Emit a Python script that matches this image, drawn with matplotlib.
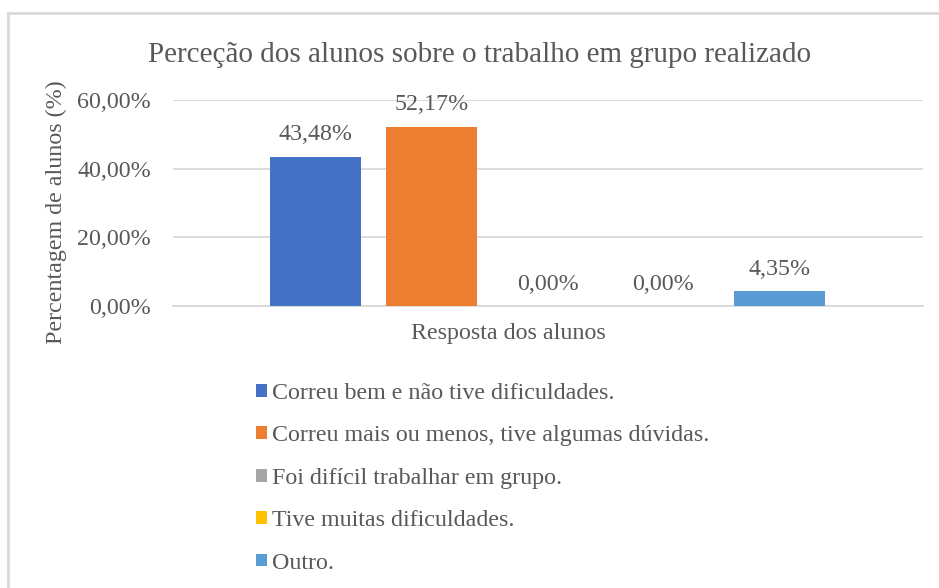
import matplotlib
matplotlib.use("Agg")
import matplotlib.pyplot as plt
from matplotlib.lines import Line2D
from matplotlib.patches import Patch

plt.rcParams['font.family'] = ['Liberation Serif', 'DejaVu Serif']

title = "Perceção dos alunos sobre o trabalho em grupo realizado"
category = "Resposta dos alunos"
ylabel = "Percentagem de alunos (%)"
series = ["Correu bem e não tive dificuldades.",
          "Correu mais ou menos, tive algumas dúvidas.",
          "Foi difícil trabalhar em grupo.",
          "Tive muitas dificuldades.",
          "Outro."]
values = [43.48, 52.17, 0.00, 0.00, 4.35]
colors = ["#4472C4", "#ED7D31", "#A5A5A5", "#FFC000", "#5B9BD5"]
yticks = [0, 20, 40, 60]

TXT = "#595959"
FS = 17.3
W, H = 939, 588
fig = plt.figure(figsize=(W / 100, H / 100), dpi=100)

# chart frame (cropped at right and bottom)
fig.add_artist(Line2D([7.5 / W, 1], [1 - 12.5 / H] * 2, color="#D9D9D9", lw=2))
fig.add_artist(Line2D([7.5 / W] * 2, [0, 1 - 12.5 / H], color="#D9D9D9", lw=2))

ax = fig.add_axes([172.5 / W, 1 - 306 / H, 750 / W, 206 / H])
step = 0.1545
width = 0.1213
n = len(series)
for i, (s, v, c) in enumerate(zip(series, values, colors)):
    x = (i - (n - 1) / 2) * step
    ax.bar(x, v, width=width, color=c, label=s, zorder=3)
    ax.annotate(f"{v:.2f}%".replace(".", ","), xy=(x, v), xytext=(0, 15.8),
                textcoords="offset points", ha="center", va="center",
                fontsize=FS, color=TXT)

ax.set_xlim(-0.5, 0.5)
ax.set_ylim(0, 60)
ax.set_yticks(yticks)
ax.set_yticklabels([f"{t:.2f}%".replace(".", ",") for t in yticks], fontsize=FS, color=TXT)
ax.tick_params(axis="y", length=0, pad=15.5)
ax.set_xticks([])
ax.grid(axis="y", color="#D9D9D9", lw=1.3, zorder=0)
for sp in ["top", "right", "left"]:
    ax.spines[sp].set_visible(False)
ax.spines["bottom"].set_color("#D9D9D9")
ax.spines["bottom"].set_linewidth(1.3)

fig.text(508 / W, 1 - 334 / H, category, ha="center", va="center", fontsize=FS, color=TXT)
fig.text(480 / W, 1 - 55 / H, title, ha="center", va="center", fontsize=21, color=TXT)
fig.text(56 / W, 1 - 212 / H, ylabel, ha="center", va="center", rotation=90,
         fontsize=FS, color=TXT)

handles = [Patch(facecolor=c, edgecolor="none") for c in colors]
leg = fig.legend(handles, series, loc="upper left",
                 bbox_to_anchor=(256 / W, 1 - 383 / H), frameon=False,
                 fontsize=FS, labelcolor=TXT, handlelength=0.45, handleheight=0.45,
                 handletextpad=0.2, labelspacing=0.89, borderpad=0, borderaxespad=0)

fig.savefig("out.png", dpi=100)
